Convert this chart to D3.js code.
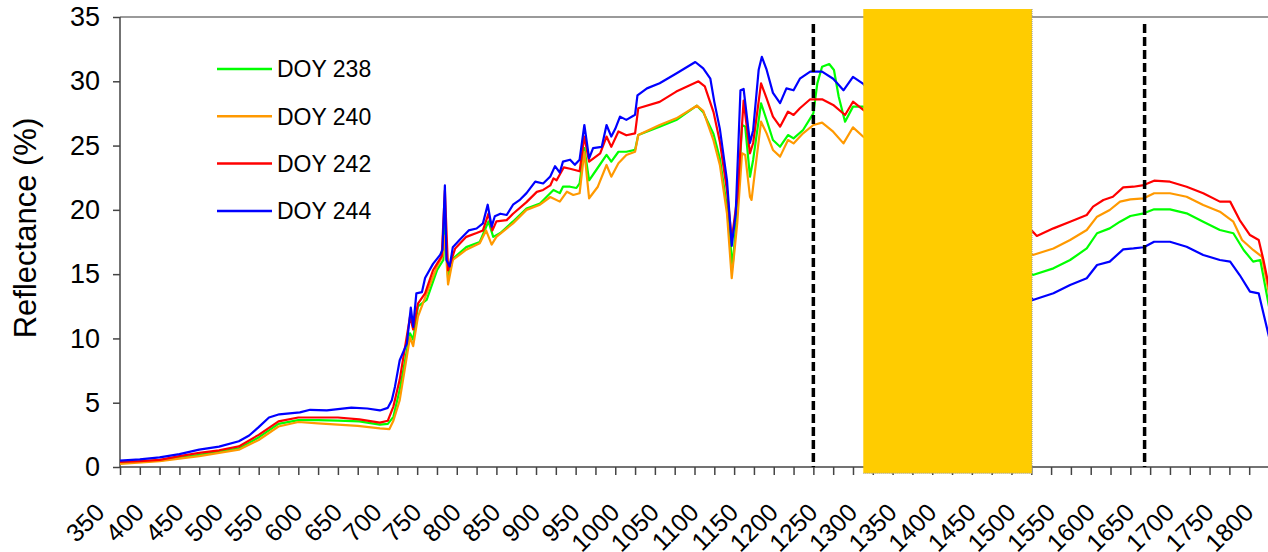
<!DOCTYPE html>
<html>
<head>
<meta charset="utf-8">
<script src="https://d3js.org/d3.v7.min.js"></script>
<style>
  body { margin: 0; background: #fff; }
  text { font-family: "Liberation Sans", Arial, sans-serif; fill: #000; }
</style>
</head>
<body>
<div id="chart"></div>
<script>
// wavelength (nm) / reflectance (%)
var doy238 = [
  [350,0.35],[400,0.5],[450,0.95],[500,1.45],[525,2.3],[550,3.35],[575,3.65],[600,3.65],[625,3.6],[652,3.55],
  [678,3.3],[688,3.35],[695,3.9],[703,6.0],[716,10.4],[720,9.9],[726,12.5],[737,13.0],[750,15.3],[758,16.1],
  [760,19.0],[764,14.7],[770,16.2],[787,17.1],[804,17.5],[815,19.1],[821,17.9],[830,18.2],[846,19.1],[863,20.1],
  [880,20.5],[897,21.55],[905,21.3],[909,21.8],[918,21.8],[926,21.7],[930,22.06],[936,24.8],[942,22.3],[951,23.1],
  [964,24.27],[970,23.75],[979,24.52],[989,24.52],[1000,24.66],[1004,25.82],[1031,26.47],[1052,26.99],[1078,28.1],[1086,27.6],
  [1099,25.9],[1107,24.0],[1116,20.2],[1123,15.58],[1129,20.0],[1135,26.6],[1139,26.47],[1145,22.58],[1149,23.88],[1159,28.29],
  [1166,26.99],[1174,25.43],[1183,24.91],[1193,25.82],[1200,25.56],[1212,26.21],[1225,27.51],[1230,29.84],[1236,31.13],[1245,31.34],
  [1251,30.88],[1257,28.8],[1265,26.86],[1275,28.03],[1288,28.03],
  [1502,14.93],[1528,15.45],[1549,16.1],[1570,17.0],[1583,18.18],[1599,18.56],[1612,19.08],[1625,19.52],[1642,19.73],[1655,20.04],
  [1675,20.04],[1696,19.73],[1717,19.08],[1738,18.43],[1755,18.18],[1768,16.88],[1780,15.97],[1789,16.1],[1800,12.47]
];
var doy240 = [
  [350,0.25],[400,0.45],[450,0.85],[500,1.35],[525,2.1],[550,3.15],[575,3.5],[600,3.4],[625,3.3],[650,3.2],
  [678,3.0],[690,2.95],[695,3.6],[703,5.2],[716,10.1],[720,9.4],[726,11.7],[737,13.5],[750,15.6],[757,16.4],
  [760,18.0],[764,14.2],[770,16.1],[787,16.9],[804,17.4],[812,18.4],[819,17.3],[825,17.9],[846,18.95],[863,20.0],
  [880,20.4],[893,21.0],[905,20.64],[914,21.41],[922,21.16],[930,21.29],[936,24.52],[942,20.9],[953,21.8],[964,23.49],
  [970,22.58],[979,23.62],[989,24.27],[1000,24.52],[1004,25.82],[1031,26.6],[1052,27.12],[1078,28.1],[1086,27.7],[1099,25.4],
  [1107,23.5],[1116,19.7],[1122,14.68],[1129,19.0],[1135,24.4],[1139,24.27],[1145,21.02],[1147,20.77],[1151,22.84],[1159,26.86],
  [1166,25.95],[1174,24.66],[1183,24.14],[1193,25.43],[1200,25.17],[1212,25.95],[1225,26.6],[1236,26.78],[1250,26.08],[1263,25.17],
  [1275,26.42],[1288,25.69],
  [1502,16.49],[1528,17.0],[1549,17.66],[1570,18.43],[1583,19.47],[1599,19.99],[1612,20.64],[1625,20.82],[1642,20.9],[1655,21.29],
  [1675,21.29],[1696,21.02],[1717,20.38],[1738,19.86],[1755,19.08],[1766,17.66],[1780,16.88],[1791,16.36],[1800,13.51]
];
var doy242 = [
  [350,0.4],[375,0.45],[400,0.55],[425,0.85],[450,1.1],[475,1.3],[500,1.6],[525,2.5],[550,3.55],[575,3.85],
  [600,3.85],[625,3.85],[652,3.7],[678,3.45],[688,3.6],[695,4.7],[703,6.8],[716,11.7],[720,10.7],[726,12.7],
  [735,13.5],[745,15.3],[756,16.4],[760,21.5],[764,15.3],[773,17.0],[787,17.9],[800,18.2],[808,18.4],[815,19.7],
  [820,18.4],[825,19.1],[838,19.2],[846,19.7],[863,20.6],[876,21.4],[884,21.55],[893,21.9],[897,22.45],[901,22.3],
  [910,23.3],[918,23.2],[930,23.0],[936,25.7],[942,23.75],[956,24.4],[964,25.7],[970,24.9],[979,26.1],[989,25.8],
  [1000,25.95],[1004,27.9],[1031,28.4],[1052,29.2],[1080,30.0],[1088,29.6],[1099,27.6],[1107,25.3],[1116,21.5],[1122,17.66],
  [1129,21.0],[1137,28.5],[1145,24.4],[1149,25.2],[1159,29.84],[1166,28.67],[1174,27.25],[1183,26.47],[1193,27.64],[1200,27.38],
  [1208,27.9],[1221,28.6],[1236,28.6],[1250,28.16],[1265,27.38],[1275,28.41],[1288,27.77],
  [1502,18.3],[1507,17.97],[1528,18.56],[1549,19.08],[1570,19.6],[1578,20.25],[1591,20.77],[1603,21.02],[1616,21.75],[1629,21.8],
  [1642,21.93],[1655,22.27],[1675,22.19],[1696,21.8],[1717,21.29],[1738,20.64],[1751,20.64],[1763,19.21],[1776,18.04],[1787,17.66],
  [1793,16.1],[1800,14.0]
];
var doy244 = [
  [350,0.49],[375,0.6],[400,0.75],[425,1.0],[450,1.35],[475,1.58],[500,2.0],[513,2.45],[525,3.1],[538,3.85],
  [551,4.1],[577,4.25],[590,4.45],[611,4.4],[642,4.62],[662,4.55],[678,4.4],[688,4.6],[693,5.2],[697,6.25],
  [703,8.3],[712,9.6],[717,12.4],[720,10.9],[724,13.5],[731,13.6],[735,14.7],[745,15.8],[754,16.5],[757,16.9],
  [760,21.9],[762,16.1],[766,15.6],[770,17.1],[779,17.7],[790,18.4],[800,18.55],[808,18.95],[814,20.4],[819,18.7],
  [823,19.5],[830,19.7],[838,19.6],[846,20.4],[855,20.8],[863,21.3],[874,22.2],[884,22.05],[893,22.6],[899,23.4],
  [905,22.9],[909,23.75],[918,23.9],[924,23.5],[930,23.9],[936,26.6],[942,24.0],[947,24.8],[958,24.9],[964,26.6],
  [970,25.7],[975,26.3],[981,27.25],[989,27.0],[1000,27.4],[1003,28.9],[1015,29.45],[1031,29.85],[1052,30.6],[1076,31.5],
  [1086,31.0],[1095,30.2],[1100,28.4],[1107,26.3],[1116,22.3],[1122,17.2],[1127,19.7],[1133,29.3],[1137,29.4],[1145,25.2],
  [1149,26.2],[1156,30.9],[1160,31.9],[1166,30.9],[1174,29.1],[1183,28.3],[1191,29.45],[1200,29.3],[1208,30.2],[1221,30.75],
  [1236,30.75],[1250,30.2],[1263,29.3],[1275,30.35],[1288,29.8],
  [1502,12.99],[1528,13.51],[1549,14.16],[1570,14.68],[1583,15.71],[1599,15.97],[1616,16.93],[1629,17.0],[1642,17.09],[1655,17.52],
  [1675,17.52],[1696,17.13],[1717,16.49],[1738,16.1],[1751,15.97],[1763,14.93],[1776,13.64],[1787,13.51],[1791,12.47],[1800,10.13]
];

var seriesNames = ["DOY 238", "DOY 240", "DOY 242", "DOY 244"];
var seriesColors = ["#00ff00", "#ff9900", "#ff0000", "#0000ff"];
var xTickValues = [350,375,400,425,450,475,500,525,550,575,600,625,650,675,700,725,750,775,800,825,850,875,900,925,950,975,1000,1025,1050,1075,1100,1125,1150,1175,1200,1225,1250,1275,1300,1325,1350,1375,1400,1425,1450,1475,1500,1525,1550,1575,1600,1625,1650,1675,1700,1725,1750,1775,1800];
var xLabels = [350,400,450,500,550,600,650,700,750,800,850,900,950,1000,1050,1100,1150,1200,1250,1300,1350,1400,1450,1500,1550,1600,1650,1700,1750,1800];
var yTicks = [0,5,10,15,20,25,30,35];
var markerLines = [1225, 1643];      // dashed verticals
var maskBand = [1288, 1501];         // yellow block over the water band

var W = 1268, H = 552;
var x = d3.scaleLinear().domain([350, 1800]).range([120, 1269]);
var y = d3.scaleLinear().domain([0, 35]).range([467, 17]);

var svg = d3.select("#chart").append("svg")
    .attr("width", W)
    .attr("height", H);

// top border of plot area
svg.append("line")
    .attr("x1", x(350)).attr("x2", W)
    .attr("y1", y(35)).attr("y2", y(35))
    .attr("stroke", "#9a9a9a").attr("stroke-width", 2);

// y axis
var yAxis = svg.append("g")
    .attr("transform", "translate(" + x(350) + ",0)")
    .call(d3.axisLeft(y).tickValues(yTicks).tickSize(7).tickPadding(13));
yAxis.selectAll("path, line").attr("stroke", "#444").attr("stroke-width", 1.5);
yAxis.select(".domain").attr("d", "M0," + y(35) + "V" + y(0));
yAxis.selectAll("text")
    .style("font-family", "'Liberation Sans', Arial, sans-serif")
    .style("font-size", "27px");

// x axis
var xAxis = svg.append("g")
    .attr("transform", "translate(0," + y(0) + ")")
    .call(d3.axisBottom(x).tickValues(xTickValues).tickSize(8).tickFormat(""));
xAxis.selectAll("path, line").attr("stroke", "#444").attr("stroke-width", 1.5);
xAxis.select(".domain").attr("d", "M" + x(350) + ",0H" + W);

svg.append("g").selectAll("text")
    .data(xLabels).enter()
    .append("text")
    .attr("transform", function(d){ return "translate(" + (x(d) - 14) + "," + (y(0) + 47) + ") rotate(-45)"; })
    .attr("text-anchor", "end")
    .style("font-size", "25px")
    .text(function(d){ return d; });

// y axis title
svg.append("text")
    .attr("transform", "translate(36," + 228 + ") rotate(-90)")
    .attr("text-anchor", "middle")
    .style("font-size", "31px")
    .text("Reflectance (%)");

// spectra
var line = d3.line()
    .x(function(d){ return x(d[0]); })
    .y(function(d){ return y(d[1]); });

var allSeries = [doy238, doy240, doy242, doy244];
svg.append("g").selectAll("path")
    .data(allSeries).enter()
    .append("path")
    .attr("d", line)
    .attr("fill", "none")
    .attr("stroke", function(d, i){ return seriesColors[i]; })
    .attr("stroke-width", 2.2)
    .attr("stroke-linejoin", "round");

// dashed markers
svg.append("g").selectAll("line")
    .data(markerLines).enter()
    .append("line")
    .attr("x1", function(d){ return x(d); })
    .attr("x2", function(d){ return x(d); })
    .attr("y1", y(34.45)).attr("y2", y(0))
    .attr("stroke", "#000")
    .attr("stroke-width", 3.5)
    .attr("stroke-dasharray", "9,4");

// yellow block
svg.append("rect")
    .attr("x", x(maskBand[0]))
    .attr("y", y(35.62))
    .attr("width", x(maskBand[1]) - x(maskBand[0]))
    .attr("height", y(-0.49) - y(35.62))
    .attr("fill", "#ffcc00");
svg.append("path")
    .attr("d", "M" + x(maskBand[1]) + "," + y(35.62) + "V" + y(-0.49) + "H" + x(maskBand[0]))
    .attr("fill", "none")
    .attr("stroke", "#999")
    .attr("stroke-width", 1)
    .attr("stroke-dasharray", "1,1");

// legend
var legend = svg.append("g").selectAll("g")
    .data(seriesNames).enter()
    .append("g")
    .attr("transform", function(d, i){ return "translate(217," + (69 + i * 47.3) + ")"; });
legend.append("line")
    .attr("x1", 0).attr("x2", 55)
    .attr("stroke", function(d, i){ return seriesColors[i]; })
    .attr("stroke-width", 2.5);
legend.append("text")
    .attr("x", 60)
    .attr("dy", "0.36em")
    .style("font-size", "23px")
    .text(function(d){ return d; });
</script>
</body>
</html>
